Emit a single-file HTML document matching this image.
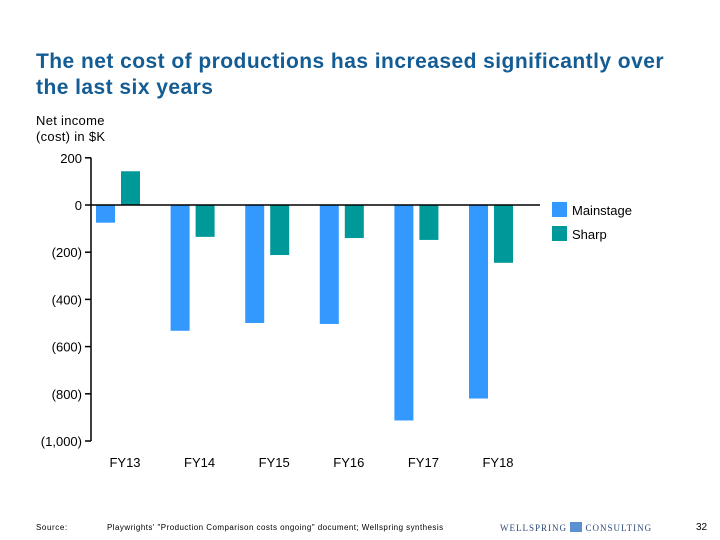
<!DOCTYPE html>
<html><head><meta charset="utf-8"><style>
body{margin:0;width:720px;height:540px;background:#fff;font-family:"Liberation Sans",sans-serif;position:relative;overflow:hidden}
.t{position:absolute;white-space:nowrap}
</style></head><body>
<div class="t" style="left:36px;top:49px;font-size:21px;font-weight:bold;letter-spacing:0.45px;line-height:26px;color:#135c94">The net cost of productions has increased significantly over<br>the last six years</div>
<div class="t" style="left:36px;top:113px;font-size:13px;line-height:16px;color:#000;letter-spacing:0.3px">Net income<br>(cost) in $K</div>
<svg id="chart" width="720" height="540" style="position:absolute;left:0;top:0" font-family="Liberation Sans, sans-serif"></svg>
<div class="t" style="left:36px;top:523px;font-size:8px;color:#000;letter-spacing:0.6px">Source:</div>
<div class="t" style="left:107px;top:523px;font-size:8px;color:#000;letter-spacing:0.45px">Playwrights' "Production Comparison costs ongoing" document; Wellspring synthesis</div>
<div class="t" style="left:500px;top:522px;font-size:9px;color:#2c4a7a;font-family:'Liberation Serif',serif;letter-spacing:1px">WELLSPRING <span style="display:inline-block;width:12px;height:10px;background:#5a8fd0;vertical-align:-1px"></span> CONSULTING</div>
<div class="t" style="left:696px;top:522px;font-size:10px;color:#000">32</div>
<script>
const categories=["FY13","FY14","FY15","FY16","FY17","FY18"];
const mainstage=[-75,-533,-500,-504,-913,-820];
const sharp=[143,-135,-212,-140,-148,-245];
const yTicks=[200,0,-200,-400,-600,-800,-1000];
const yTickLabels=["200","0","(200)","(400)","(600)","(800)","(1,000)"];
const svg=document.getElementById('chart');
const NS='http://www.w3.org/2000/svg';
const y=v=>205-v*(441-205)/1000;
const x0=96,step=74.6,bw=19;
function mk(t,a){const e=document.createElementNS(NS,t);for(const k in a)e.setAttribute(k,a[k]);svg.appendChild(e);return e;}
categories.forEach((c,i)=>{
 const xm=x0+i*step;
 let v=mainstage[i];
 let r=mk('rect',{x:xm,y:Math.min(y(0),y(v)),width:bw,height:Math.abs(y(v)-y(0)),fill:'#3399ff'});
 
 
 v=sharp[i];
 r=mk('rect',{x:xm+25,y:Math.min(y(0),y(v)),width:bw,height:Math.abs(y(v)-y(0)),fill:'#009999'});
 
 
 const t=mk('text',{x:xm+29,y:467,'font-size':13,'text-anchor':'middle',fill:'#000'});
 t.textContent=c;
 
 
});
let ax=mk('line',{x1:91,y1:y(200),x2:91,y2:y(-1000),stroke:'#000','stroke-width':1.5});


let zl=mk('line',{x1:91,y1:y(0),x2:540,y2:y(0),stroke:'#000','stroke-width':1.5});


yTicks.forEach((v,i)=>{
 const tk=mk('line',{x1:85,y1:y(v),x2:91,y2:y(v),stroke:'#000','stroke-width':1.5});
 
 
 const t=mk('text',{x:82,y:y(v)+5,'font-size':13,'text-anchor':'end',fill:'#000'});
 t.textContent=yTickLabels[i];
 
 
});
[["Mainstage","#3399ff",202],["Sharp","#009999",226]].forEach(([n,c,yy])=>{
 const r=mk('rect',{x:552,y:yy,width:15,height:15,fill:c});
 
 
 const t=mk('text',{x:572,y:yy+13,'font-size':13,fill:'#000'});
 t.textContent=n;
 
 
});
</script>
</body></html>
